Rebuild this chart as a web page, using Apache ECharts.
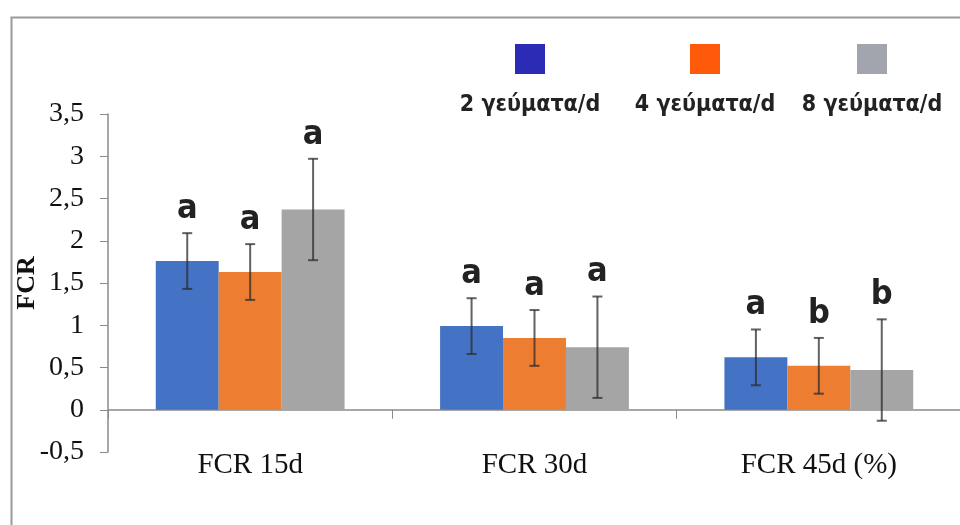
<!DOCTYPE html>
<html>
<head>
<meta charset="utf-8">
<script src="https://cdn.jsdelivr.net/npm/echarts@6/dist/echarts.min.js"></script>
<style>html,body{margin:0;padding:0;background:#fff}#c{width:960px;height:525px}</style>
</head>
<body>
<div id="c"></div>
<script>
const categories = ['FCR 15d', 'FCR 30d', 'FCR 45d (%)'];
const seriesNames = ['2 γεύματα/d', '4 γεύματα/d', '8 γεύματα/d'];
const meals2 = [1.76, 0.99, 0.62];
const meals4 = [1.63, 0.85, 0.52];
const meals8 = [2.37, 0.74, 0.47];
const err2 = [0.33, 0.33, 0.33];
const err4 = [0.33, 0.33, 0.33];
const err8 = [0.60, 0.60, 0.60];
const letters2 = ['a', 'a', 'a'];
const letters4 = ['a', 'a', 'b'];
const letters8 = ['a', 'a', 'b'];

const barColors = ['#4472C4', '#ED7D31', '#A5A5A5'];
const legendColors = ['#2B2BB5', '#FF5A0A', '#A2A4AE'];
const CAT_GAP = 0.336;
const condensed = "'Liberation Sans Narrow','DejaVu Sans Condensed','Roboto Condensed',sans-serif";
const serif = "'Liberation Serif','DejaVu Serif',serif";

const values = [meals2, meals4, meals8];
const errs = [err2, err4, err8];
const letters = [letters2, letters4, letters8];

function errSeries(si) {
  return {
    type: 'custom',
    name: seriesNames[si] + ' err',
    z: 5,
    data: categories.map((c, i) => [i, values[si][i], errs[si][i], letters[si][i]]),
    renderItem: function (params, api) {
      const idx = api.value(0);
      const v = api.value(1);
      const e = api.value(2);
      const catW = api.size([1, 0])[0];
      const barW = catW * (1 - CAT_GAP) / 3;
      const center = api.coord([idx, v]);
      const x = center[0] + (si - 1) * barW;
      const top = api.coord([idx, v + e])[1];
      const bot = api.coord([idx, v - e])[1];
      const cap = 5;
      const st = { stroke: 'rgba(45,45,45,0.75)', lineWidth: 2 };
      return {
        type: 'group',
        children: [
          { type: 'line', shape: { x1: x, y1: top, x2: x, y2: bot }, style: st },
          { type: 'line', shape: { x1: x - cap, y1: top, x2: x + cap, y2: top }, style: st },
          { type: 'line', shape: { x1: x - cap, y1: bot, x2: x + cap, y2: bot }, style: st },
          { type: 'text', x: x, y: top - 7, style: {
              text: api.value(3), fill: '#222', font: 'bold 34px ' + condensed,
              align: 'center', verticalAlign: 'bottom' } }
        ]
      };
    }
  };
}

const legendX = [530, 705, 872];
const graphics = [
  { type: 'rect', left: 9, top: 15, shape: { width: 1000, height: 600 },
    style: { fill: 'none', stroke: '#9a9a9a', lineWidth: 2 }, silent: true }
];
legendX.forEach((x, i) => {
  graphics.push({ type: 'rect', x: x - 15, y: 44, shape: { width: 30, height: 30 },
    style: { fill: legendColors[i] } });
  graphics.push({ type: 'text', x: x, y: 105, style: {
    text: seriesNames[i], fill: '#222', font: 'bold 23px ' + condensed,
    align: 'center', verticalAlign: 'middle' } });
});

const chart = echarts.init(document.getElementById('c'));
chart.setOption({
  animation: false,
  backgroundColor: '#fff',
  graphic: graphics,
  grid: { left: 108, top: 114, width: 853, height: 338, containLabel: false, outerBoundsMode: 'none' },
  xAxis: {
    type: 'category',
    data: categories,
    axisLine: { onZero: true, lineStyle: { color: '#8a8a8a', width: 1.5 } },
    axisTick: { show: true, length: 9, lineStyle: { color: '#8a8a8a' } },
    axisLabel: { margin: -1, color: '#111', fontFamily: serif, fontSize: 29 }
  },
  yAxis: {
    type: 'value',
    min: -0.5, max: 3.5, interval: 0.5,
    name: 'FCR', nameLocation: 'middle', nameGap: 68, nameRotate: 90,
    nameMoveOverlap: false,
    nameTextStyle: { fontFamily: serif, fontWeight: 'bold', fontSize: 26, color: '#111' },
    axisLine: { show: true, lineStyle: { color: '#8a8a8a', width: 1.5 } },
    axisTick: { show: true, length: 8, lineStyle: { color: '#8a8a8a' } },
    splitLine: { show: false },
    axisLabel: { margin: 24, color: '#111', fontFamily: serif, fontSize: 28,
      formatter: v => String(v).replace('.', ',') }
  },
  series: [
    ...values.map((vals, si) => ({
      type: 'bar', name: seriesNames[si], data: vals,
      barGap: '0%', barCategoryGap: (CAT_GAP * 100) + '%',
      itemStyle: { color: barColors[si] }
    })),
    errSeries(0), errSeries(1), errSeries(2)
  ]
});
</script>
</body>
</html>
